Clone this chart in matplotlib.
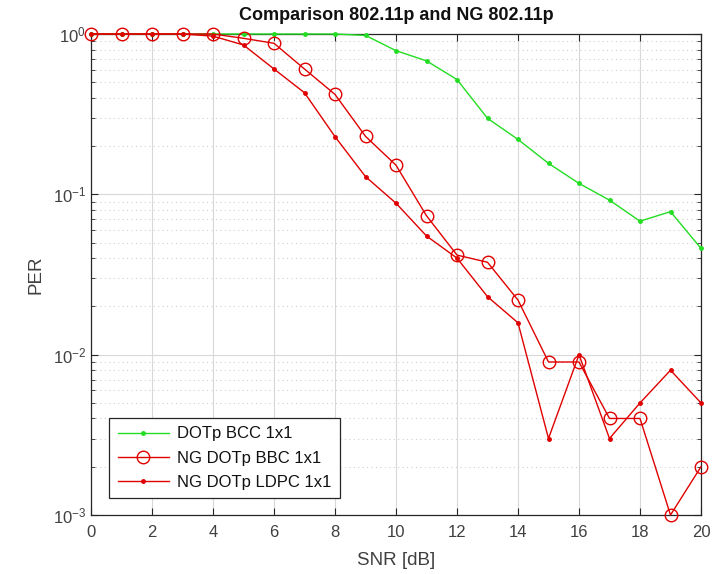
import matplotlib
matplotlib.use("Agg")
import matplotlib.pyplot as plt
import numpy as np

plt.rcParams['font.family'] = ['Liberation Sans', 'DejaVu Sans']
plt.rcParams['mathtext.fontset'] = 'custom'
plt.rcParams['mathtext.rm'] = 'Liberation Sans'
plt.rcParams['mathtext.it'] = 'Liberation Sans'

snr = list(range(0, 21))
per_bcc = [1, 1, 1, 1, 1, 1, 1, 1, 1, 0.98, 0.787, 0.68, 0.52, 0.298, 0.22,
           0.156, 0.117, 0.092, 0.068, 0.078, 0.046]
per_ng_bbc = [1, 1, 1, 1, 1, 0.94, 0.875, 0.605, 0.42, 0.23, 0.152, 0.0735,
              0.0418, 0.0377, 0.0219, 0.009, 0.009, 0.004, 0.004, 0.001, 0.002]
per_ng_ldpc = [1, 1, 1, 1, 0.97, 0.854, 0.605, 0.43, 0.229, 0.129, 0.088,
               0.055, 0.04, 0.023, 0.0158, 0.003, 0.01, 0.003, 0.005, 0.008, 0.005]
labels = ['DOTp BCC 1x1', 'NG DOTp BBC 1x1', 'NG DOTp LDPC 1x1']

fig = plt.figure(figsize=(7.2, 5.74), dpi=100)
ax = fig.add_axes([91/720, 1-515/574, (701-91)/720, (515-34)/574])

green = '#22dd22'
red = '#e00000'
txt = '#404040'
ax.semilogy(snr, per_bcc, color=green, marker='.', markersize=5, lw=1.0, label=labels[0], clip_on=False, zorder=3)
ax.semilogy(snr, per_ng_bbc, color=red, marker='o', markersize=9, mfc='none', lw=1.0, label=labels[1], clip_on=False, zorder=4)
ax.semilogy(snr, per_ng_ldpc, color=red, marker='.', markersize=5, lw=1.0, label=labels[2], clip_on=False, zorder=4)

ax.set_xlim(0, 20)
ax.set_ylim(1e-3, 1)
ax.set_xticks(range(0, 21, 2))
ax.grid(True, which='major', color='#d8d8d8', lw=0.8, ls='-')
ax.grid(True, which='minor', color='#d0d0d0', lw=0.8, ls=(0, (1, 3)))
ax.set_axisbelow(True)
ax.tick_params(which='both', direction='in', top=True, right=True, labelsize=12, colors='#262626', labelcolor=txt)
ax.tick_params(which='major', length=5)
ax.tick_params(which='minor', length=3)
ax.tick_params(axis='x', pad=7)
for s in ax.spines.values():
    s.set_color('#262626')
    s.set_linewidth(0.9)

ax.set_xlabel('SNR [dB]', fontsize=13.5, color=txt, labelpad=9)
ax.set_ylabel('PER', fontsize=13.5, color=txt, labelpad=6)
ax.set_title('Comparison 802.11p and NG 802.11p', fontsize=13, fontweight='bold', pad=10, color='#111111')

leg = ax.legend(loc='lower left', bbox_to_anchor=(0.03, 0.035), fontsize=12,
                frameon=True, fancybox=False, edgecolor='#262626', framealpha=1,
                handlelength=3.1, handletextpad=0.45, borderaxespad=0, borderpad=0.5,
                labelspacing=0.55)
leg.get_frame().set_linewidth(0.9)
for t in leg.get_texts():
    t.set_color('#111111')

fig.savefig('out.png', dpi=100)
